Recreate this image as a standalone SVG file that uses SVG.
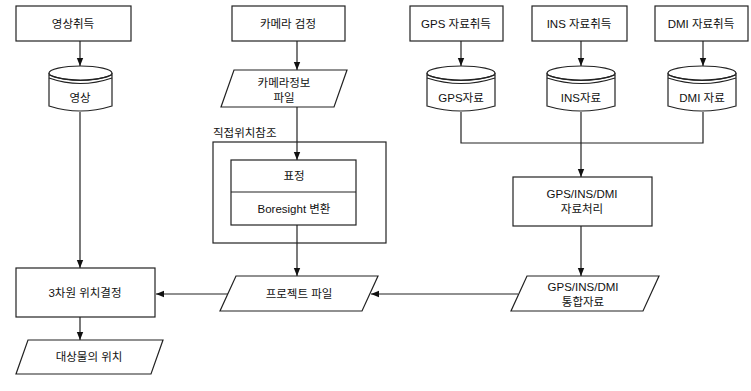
<svg xmlns="http://www.w3.org/2000/svg" width="751" height="391" viewBox="0 0 751 391">
<defs>
<marker id="ah" viewBox="0 0 10 10" refX="10" refY="5" markerWidth="7" markerHeight="7" orient="auto-start-reverse">
<path d="M0,1 L10,5 L0,9 z" fill="#111"/>
</marker>
<style>
.b{fill:#fff;stroke:#222;stroke-width:1.2}
.t{font-family:"Liberation Sans","Noto Sans CJK KR",sans-serif;font-size:11.5px;fill:#111;text-anchor:middle}
.c{fill:none;stroke:#222;stroke-width:1.2}
.a{fill:none;stroke:#222;stroke-width:1.2;marker-end:url(#ah)}
</style>
</defs>
<rect width="751" height="391" fill="#fff"/>

<g id="connectors">
<path class="a" d="M80,41 V66"/>
<path class="a" d="M80,112 V268"/>
<path class="a" d="M80,317 V340"/>
<path class="a" d="M297,41 V70"/>
<path class="a" d="M297,107 V160"/>
<path class="a" d="M297,225 V276"/>
<path class="a" d="M461,41 V66"/>
<path class="a" d="M581,41 V66"/>
<path class="a" d="M703,41 V66"/>
<path class="c" d="M461,112 V143 H703 V112"/>
<path class="a" d="M581,112 V177"/>
<path class="a" d="M581,226 V276"/>
<path class="a" d="M228,294 H156"/>
<path class="a" d="M518,294 H371"/>
</g>

<g id="n-image-acq"><rect class="b" x="16" y="6" width="115" height="35"/><text class="t" x="73" y="28">영상취득</text></g>
<g id="n-image">
<path class="b" d="M49,73 V106 Q80,116 112,106 V73"/>
<ellipse class="b" cx="80.5" cy="73" rx="31.5" ry="7"/>
<path class="c" d="M49,75 Q80,86 112,75 M49,78 Q80,89 112,78"/>
<text class="t" x="80" y="102">영상</text></g>

<g id="n-cam-cal"><rect class="b" x="232" y="6" width="113" height="35"/><text class="t" x="288" y="28">카메라 검정</text></g>
<g id="n-cam-file"><path class="b" d="M234,70 H347 L334,107 H221 z"/><text class="t" x="284" y="87">카메라정보</text><text class="t" x="284" y="102">파일</text></g>

<g id="n-direct">
<text class="t" x="213" y="137" style="text-anchor:start">직접위치참조</text>
<rect class="c" x="213" y="142" width="173" height="101"/>
<rect class="b" x="231" y="160" width="125" height="65"/>
<line class="c" x1="231" y1="192" x2="356" y2="192"/>
<text class="t" x="294" y="180">표정</text>
<text class="t" x="294" y="213">Boresight 변환</text>
</g>

<g id="n-proj"><path class="b" d="M236,276 H378 L362,311 H220 z"/><text class="t" x="299" y="298">프로젝트 파일</text></g>

<g id="n-3d"><rect class="b" x="16" y="268" width="139" height="49"/><text class="t" x="85" y="297">3차원 위치결정</text></g>
<g id="n-target"><path class="b" d="M28,340 H163 L151,374 H16 z"/><text class="t" x="89" y="361">대상물의 위치</text></g>

<g id="n-gps-acq"><rect class="b" x="410" y="6" width="93" height="35"/><text class="t" x="456" y="28">GPS 자료취득</text></g>
<g id="n-ins-acq"><rect class="b" x="532" y="6" width="95" height="35"/><text class="t" x="579" y="28">INS 자료취득</text></g>
<g id="n-dmi-acq"><rect class="b" x="655" y="6" width="93" height="35"/><text class="t" x="701" y="28">DMI 자료취득</text></g>

<g id="n-gps">
<path class="b" d="M427,73 V106 Q461,116 495,106 V73"/>
<ellipse class="b" cx="461" cy="73" rx="34" ry="7"/>
<path class="c" d="M427,75 Q461,86 495,75 M427,78 Q461,89 495,78"/>
<text class="t" x="461" y="102">GPS자료</text></g>
<g id="n-ins">
<path class="b" d="M547,73 V106 Q581,116 615,106 V73"/>
<ellipse class="b" cx="581" cy="73" rx="34" ry="7"/>
<path class="c" d="M547,75 Q581,86 615,75 M547,78 Q581,89 615,78"/>
<text class="t" x="581" y="102">INS자료</text></g>
<g id="n-dmi">
<path class="b" d="M668,73 V106 Q702,116 736,106 V73"/>
<ellipse class="b" cx="702" cy="73" rx="34" ry="7"/>
<path class="c" d="M668,75 Q702,86 736,75 M668,78 Q702,89 736,78"/>
<text class="t" x="702" y="102">DMI 자료</text></g>

<g id="n-proc"><rect class="b" x="513" y="177" width="139" height="49"/><text class="t" x="582" y="198">GPS/INS/DMI</text><text class="t" x="582" y="213">자료처리</text></g>
<g id="n-int"><path class="b" d="M527,276 H659 L643,311 H511 z"/><text class="t" x="583" y="291">GPS/INS/DMI</text><text class="t" x="583" y="306">통합자료</text></g>
</svg>
